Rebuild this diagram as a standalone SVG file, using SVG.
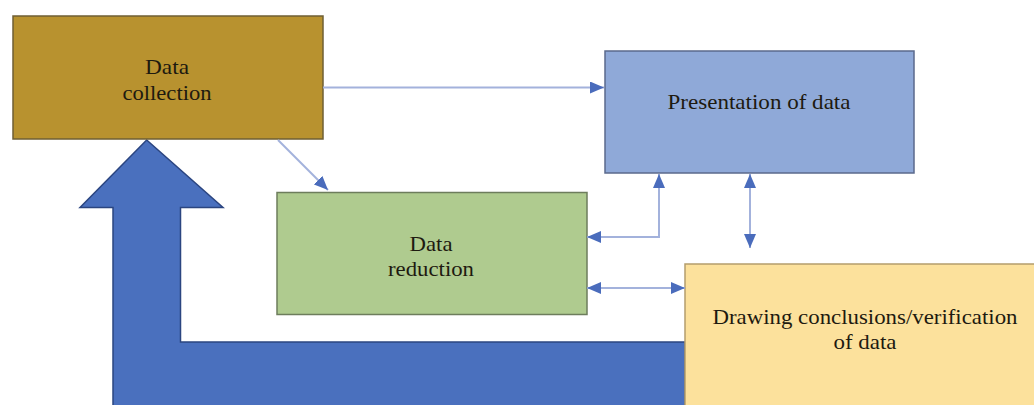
<svg xmlns="http://www.w3.org/2000/svg" width="1034" height="405" viewBox="0 0 1034 405">
<style>
  text { font-family: "Liberation Serif", "Times New Roman", serif; font-size: 21px; fill: #1e1a10; text-anchor: middle; }
  .box { stroke-width: 1.5; }
  .conn { fill: none; stroke: #A3B2DC; stroke-width: 2; }
</style>
<defs>
  <marker id="ah" viewBox="0 0 14 12" refX="14" refY="6" markerWidth="14" markerHeight="12" markerUnits="userSpaceOnUse" orient="auto-start-reverse">
    <path d="M0,0 L14,6 L0,12 z" fill="#4A6CBC"/>
  </marker>
</defs>
<rect width="1034" height="405" fill="#ffffff"/>

<g id="feedback-arrow">
  <polygon points="146.7,140 223,207.5 180.5,207.5 180.5,342 685,342 685,410 113,410 113,207.5 80,207.5" fill="#4A70BE" stroke="#2B4580" stroke-width="1.5"/>
</g>

<g id="data-collection">
  <rect class="box" x="13" y="16" width="310" height="123" fill="#B8922F" stroke="#6f5f35"/>
  <text x="167" y="73.5" textLength="44" lengthAdjust="spacingAndGlyphs">Data</text>
  <text x="167" y="99.5" textLength="89" lengthAdjust="spacingAndGlyphs">collection</text>
</g>

<g id="presentation">
  <rect class="box" x="605" y="51" width="309" height="122" fill="#8FA9D8" stroke="#5b6a8c"/>
  <text x="759" y="108.5" textLength="183" lengthAdjust="spacingAndGlyphs" fill="#1b2340">Presentation of data</text>
</g>

<g id="data-reduction">
  <rect class="box" x="277" y="192.5" width="310" height="122" fill="#AFCB8F" stroke="#6d7d5c"/>
  <text x="431" y="250.5" textLength="43" lengthAdjust="spacingAndGlyphs" fill="#1b2a12">Data</text>
  <text x="431" y="276" textLength="86" lengthAdjust="spacingAndGlyphs" fill="#1b2a12">reduction</text>
</g>

<g id="drawing-conclusions">
  <rect class="box" x="685" y="264" width="360" height="150" fill="#FCE19C" stroke="#b49d6c"/>
  <text x="865" y="324" textLength="305" lengthAdjust="spacingAndGlyphs">Drawing conclusions/verification</text>
  <text x="865" y="348.5" textLength="63" lengthAdjust="spacingAndGlyphs">of data</text>
</g>

<g id="connectors">
  <path class="conn" d="M323,87.5 H604" marker-end="url(#ah)"/>
  <path class="conn" d="M278,140 L328,190" marker-end="url(#ah)"/>
  <path class="conn" d="M659,174 V237 H587" marker-start="url(#ah)" marker-end="url(#ah)"/>
  <path class="conn" d="M750,174 V248" marker-start="url(#ah)" marker-end="url(#ah)"/>
  <path class="conn" d="M587,288 H685" marker-start="url(#ah)" marker-end="url(#ah)"/>
</g>
</svg>
